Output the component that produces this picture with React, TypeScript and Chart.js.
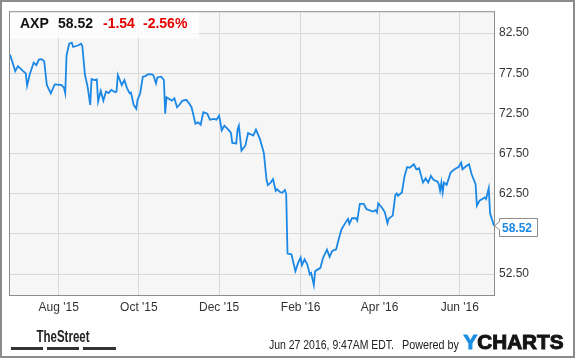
import React, { useEffect, useRef } from "react";
import { Chart, registerables } from "chart.js";

Chart.register(...registerables);

// ---------- data ----------
const startDate = "2015-06-25";
const endDate = "2016-06-27";

const dates = [
  "2015-06-25", "2015-06-29", "2015-07-01", "2015-07-05", "2015-07-07", "2015-07-08", "2015-07-10", "2015-07-13",
  "2015-07-15", "2015-07-17", "2015-07-19", "2015-07-21", "2015-07-23", "2015-07-26", "2015-07-29", "2015-08-03",
  "2015-08-05", "2015-08-06", "2015-08-07", "2015-08-09", "2015-08-11", "2015-08-12", "2015-08-16", "2015-08-18",
  "2015-08-19", "2015-08-21", "2015-08-23", "2015-08-25", "2015-08-26", "2015-08-28", "2015-08-30", "2015-08-31",
  "2015-09-02", "2015-09-04", "2015-09-06", "2015-09-08", "2015-09-10", "2015-09-13", "2015-09-14", "2015-09-15",
  "2015-09-18", "2015-09-20", "2015-09-22", "2015-09-24", "2015-09-25", "2015-09-27", "2015-09-29", "2015-09-30",
  "2015-10-02", "2015-10-04", "2015-10-06", "2015-10-08", "2015-10-11", "2015-10-12", "2015-10-14", "2015-10-15",
  "2015-10-18", "2015-10-20", "2015-10-21", "2015-10-22", "2015-10-26", "2015-10-28", "2015-10-30", "2015-11-01",
  "2015-11-03", "2015-11-06", "2015-11-08", "2015-11-10", "2015-11-13", "2015-11-15", "2015-11-17", "2015-11-19",
  "2015-11-22", "2015-11-24", "2015-11-27", "2015-11-29", "2015-12-01", "2015-12-03", "2015-12-05", "2015-12-08",
  "2015-12-10", "2015-12-11", "2015-12-14", "2015-12-15", "2015-12-16", "2015-12-18", "2015-12-21", "2015-12-23",
  "2015-12-27", "2015-12-29", "2016-01-01", "2016-01-04", "2016-01-06", "2016-01-07", "2016-01-09", "2016-01-11",
  "2016-01-13", "2016-01-14", "2016-01-16", "2016-01-18", "2016-01-20", "2016-01-21", "2016-01-22", "2016-01-25",
  "2016-01-28", "2016-01-30", "2016-02-01", "2016-02-02", "2016-02-04", "2016-02-06", "2016-02-08", "2016-02-09",
  "2016-02-11", "2016-02-12", "2016-02-16", "2016-02-18", "2016-02-21", "2016-02-23", "2016-02-25", "2016-02-28",
  "2016-03-01", "2016-03-03", "2016-03-06", "2016-03-08", "2016-03-09", "2016-03-11", "2016-03-14", "2016-03-15",
  "2016-03-17", "2016-03-20", "2016-03-22", "2016-03-25", "2016-03-27", "2016-03-29", "2016-03-30", "2016-03-31",
  "2016-04-03", "2016-04-05", "2016-04-07", "2016-04-08", "2016-04-11", "2016-04-13", "2016-04-14", "2016-04-15",
  "2016-04-18", "2016-04-20", "2016-04-22", "2016-04-24", "2016-04-27", "2016-04-29", "2016-05-01", "2016-05-03",
  "2016-05-04", "2016-05-06", "2016-05-08", "2016-05-10", "2016-05-12", "2016-05-15", "2016-05-16", "2016-05-17",
  "2016-05-18", "2016-05-19", "2016-05-20", "2016-05-22", "2016-05-25", "2016-05-28", "2016-05-31", "2016-06-02",
  "2016-06-03", "2016-06-06", "2016-06-08", "2016-06-10", "2016-06-13", "2016-06-14", "2016-06-16", "2016-06-20",
  "2016-06-21", "2016-06-23", "2016-06-24", "2016-06-27",
];

const prices = [
  79.82, 77.77, 78.39, 77.77, 77.48, 75.96, 77.35, 78.83,
  78.51, 79.2, 79.25, 79.01, 76.04, 75.01, 76.12, 76.04,
  75.71, 75.01, 79.75, 81.18, 81.3, 80.77, 80.98, 81.18,
  80.9, 77.28, 75.83, 73.57, 76.78, 76.64, 76.73, 73.98,
  75.3, 74.1, 75.22, 75.03, 75.43, 75.13, 75.22, 77.28,
  76.04, 76.66, 75.62, 75.01, 75.1, 73.57, 73.08, 74.19,
  75.01, 77.07, 77.15, 77.4, 77.35, 77.25, 76.24, 76.98,
  77.07, 76.66, 72.46, 74.51, 74.1, 74.39, 73.28, 73.61,
  74.07, 74.19, 73.8, 73.28, 71.23, 71.39, 71.1, 72.66,
  72.46, 71.72, 71.82, 71.72, 72.22, 70.4, 70.98, 70.49,
  70.07, 68.83, 68.76, 70.49, 70.98, 67.87, 68.51, 70.07,
  69.75, 70.49, 69.33, 67.6, 64.31, 63.57, 63.86, 64.31,
  62.87, 63.06, 62.75, 62.62, 62.96, 62.46, 55.06, 54.97,
  52.87, 53.86, 54.56, 53.61, 54.35, 53.73, 52.46, 52.62,
  51.14, 52.87, 53.28, 54.51, 55.55, 54.64, 55.38, 55.59,
  56.91, 58.06, 58.88, 59.38, 58.76, 59.45, 59.45, 59.17,
  61.23, 61.23, 60.61, 60.4, 60.28, 60.46, 60.19, 61.3,
  60.73, 60.19, 58.83, 59.41, 59.78, 62.38, 62.54, 62.25,
  62.66, 64.72, 65.83, 65.75, 66.17, 65.55, 65.67, 64.51,
  63.9, 64.41, 63.9, 64.72, 64.23, 64.02, 63.7, 62.87,
  63.9, 62.66, 63.9, 63.61, 65.13, 65.55, 65.83, 66.36,
  65.55, 65.96, 66.17, 64.93, 63.7, 61.02, 61.64, 62.04,
  61.85, 63.2, 60.07, 58.52,
];

const xTickDates = ["2015-08-01", "2015-10-01", "2015-12-01", "2016-02-01", "2016-04-01", "2016-06-01"];
const xTickLabels = ["Aug '15", "Oct '15", "Dec '15", "Feb '16", "Apr '16", "Jun '16"];
const yTicks = [52.5, 57.5, 62.5, 67.5, 72.5, 77.5, 82.5];
const yMin = 49.9;
const yMax = 85.1;

const ticker = "AXP";
const lastPriceText = "58.52";
const changeText = "-1.54";
const changePctText = "-2.56%";
const stampText = "Jun 27 2016, 9:47AM EDT.";
const poweredText = "Powered by";
const brandLeft = "TheStreet";
const brandY = "Y";
const brandRest = "CHARTS";

// ---------- helpers ----------
const FONT = '"Liberation Sans", Arial, sans-serif';
const LINE_BLUE = "#1c88e6";

function dayOf(s: string): number {
  const [y, m, d] = s.split("-").map(Number);
  const [y0, m0, d0] = startDate.split("-").map(Number);
  return Math.round((Date.UTC(y, m - 1, d) - Date.UTC(y0, m0 - 1, d0)) / 86400000);
}

const decorPlugin = {
  id: "decor",
  beforeDraw(chart: any) {
    const { ctx, chartArea: a, width, height } = chart;
    ctx.save();
    ctx.fillStyle = "#ffffff";
    ctx.fillRect(0, 0, width, height);
    ctx.fillStyle = "#f6f6f6";
    ctx.fillRect(a.left, a.top, a.right - a.left, a.bottom - a.top);
    ctx.restore();
  },
  afterDatasetsDraw(chart: any) {
    const { ctx, chartArea: a } = chart;
    ctx.save();
    // header box
    ctx.fillStyle = "rgba(255,255,255,0.75)";
    ctx.fillRect(a.left, a.top, 189, 26);
    ctx.textBaseline = "alphabetic";
    ctx.font = `bold 14px ${FONT}`;
    ctx.fillStyle = "#111";
    ctx.fillText(ticker, 20, 28);
    ctx.fillText(lastPriceText, 58, 28);
    ctx.fillStyle = "#e60000";
    ctx.fillText(changeText, 103, 28);
    ctx.fillText(changePctText, 143, 28);

    // plot border
    ctx.strokeStyle = "#8c8c8c";
    ctx.lineWidth = 1;
    ctx.strokeRect(a.left - 0.5, a.top - 0.5, a.right - a.left + 1, a.bottom - a.top + 1);

    // last value callout
    const meta = chart.getDatasetMeta(0);
    const pt = meta.data[meta.data.length - 1];
    const px = pt.x;
    const py = pt.y;
    const bx = px + 5;
    const bw = 38;
    const top = Math.round(py - 8) + 0.5;
    const bot = top + 18;
    ctx.beginPath();
    ctx.moveTo(px + 0.5, py);
    ctx.lineTo(bx + 0.5, py - 4);
    ctx.lineTo(bx + 0.5, top);
    ctx.lineTo(bx + bw + 0.5, top);
    ctx.lineTo(bx + bw + 0.5, bot);
    ctx.lineTo(bx + 0.5, bot);
    ctx.lineTo(bx + 0.5, py + 4);
    ctx.closePath();
    ctx.fillStyle = "#ffffff";
    ctx.fill();
    ctx.strokeStyle = "#8c8c8c";
    ctx.stroke();
    ctx.font = `bold 12px ${FONT}`;
    ctx.fillStyle = LINE_BLUE;
    ctx.fillText(lastPriceText, bx + 3, top + 13.5);
    ctx.restore();
  },
  afterDraw(chart: any) {
    const { ctx, width, height } = chart;
    ctx.save();
    ctx.textBaseline = "alphabetic";
    // TheStreet logo
    ctx.font = `bold 16px ${FONT}`;
    ctx.fillStyle = "#222";
    ctx.fillText(brandLeft, 36.5, 341.5, 53);
    ctx.fillStyle = "#333";
    ctx.fillRect(11, 347, 32, 3);
    ctx.fillRect(47, 347, 32, 3);
    ctx.fillRect(83, 347, 33, 3);

    // stamp
    ctx.font = `12px ${FONT}`;
    ctx.fillStyle = "#222";
    ctx.fillText(stampText, 269, 348.5, 125);
    ctx.fillText(poweredText, 402, 348.5, 57);

    // YCHARTS logo
    ctx.font = `bold 20px ${FONT}`;
    const full = ctx.measureText(brandY + brandRest).width;
    const yW = ctx.measureText(brandY).width;
    const sx = 100 / full;
    ctx.translate(463.5, 349);
    ctx.scale(sx, 1);
    ctx.lineWidth = 1;
    ctx.fillStyle = "#1a8fe3";
    ctx.strokeStyle = "#1a8fe3";
    ctx.fillText(brandY, 0, 0);
    ctx.strokeText(brandY, 0, 0);
    ctx.fillStyle = "#151515";
    ctx.strokeStyle = "#151515";
    ctx.fillText(brandRest, yW, 0);
    ctx.strokeText(brandRest, yW, 0);
    ctx.setTransform(1, 0, 0, 1, 0, 0);

    // outer border
    ctx.strokeStyle = "#8c8c8c";
    ctx.lineWidth = 2;
    ctx.strokeRect(1, 1, width - 2, height - 2);
    ctx.restore();
  },
};

export default function App() {
  const ref = useRef<HTMLCanvasElement | null>(null);

  useEffect(() => {
    document.body.style.margin = "0";
    const canvas = ref.current;
    if (!canvas) return;
    const points = dates.map((d, i) => ({ x: dayOf(d), y: prices[i] }));
    const chart = new Chart(canvas, {
      type: "line",
      data: {
        datasets: [
          {
            data: points,
            borderColor: LINE_BLUE,
            borderWidth: 1.8,
            pointRadius: 0,
            tension: 0,
            fill: false,
          },
        ],
      },
      options: {
        animation: false,
        responsive: false,
        events: [],
        layout: { padding: { left: 10, top: 10, right: 0, bottom: 0 } },
        plugins: { legend: { display: false }, tooltip: { enabled: false } },
        scales: {
          x: {
            type: "linear",
            min: 0,
            max: dayOf(endDate),
            afterBuildTicks: (s: any) => {
              s.ticks = xTickDates.map((d) => ({ value: dayOf(d) }));
            },
            afterFit: (s: any) => {
              s.height = 63;
            },
            grid: { color: "#d9d9d9", drawTicks: false, lineWidth: 1 },
            border: { display: false },
            ticks: {
              padding: 5,
              autoSkip: false,
              maxRotation: 0,
              color: "#333",
              font: { family: FONT, size: 12 },
              callback: (_v: any, i: number) => xTickLabels[i],
            },
          },
          y: {
            type: "linear",
            position: "right",
            min: yMin,
            max: yMax,
            afterBuildTicks: (s: any) => {
              s.ticks = yTicks.map((v) => ({ value: v }));
            },
            afterFit: (s: any) => {
              s.width = 81;
            },
            grid: { color: "#d9d9d9", drawTicks: false, lineWidth: 1 },
            border: { display: false },
            ticks: {
              padding: 5,
              color: "#333",
              font: { family: FONT, size: 12 },
              callback: (v: any) => Number(v).toFixed(2),
            },
          },
        },
      },
      plugins: [decorPlugin],
    });
    return () => chart.destroy();
  }, []);

  return (
    <canvas ref={ref} width={575} height={358} style={{ display: "block", width: 575, height: 358 }} />
  );
}
